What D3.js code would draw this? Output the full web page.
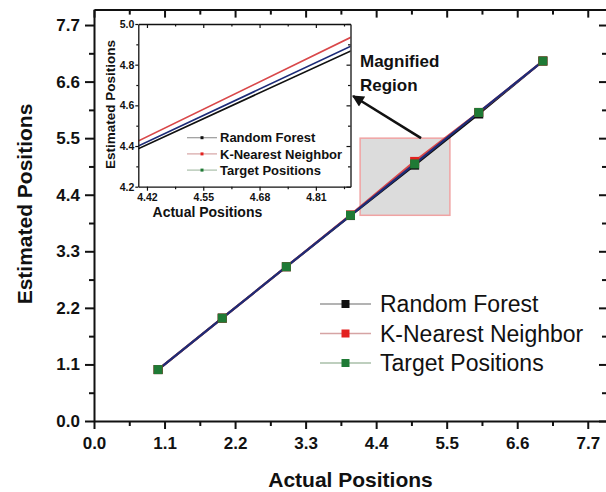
<!DOCTYPE html>
<html>
<head>
<meta charset="utf-8">
<script src="https://cdn.jsdelivr.net/npm/d3@7"></script>
<style>
  html, body { margin: 0; padding: 0; background: #fff; }
  svg { display: block; }
  text { font-family: "Liberation Sans", Arial, Helvetica, sans-serif; fill: #111; }
</style>
</head>
<body>
<svg id="chart" width="606" height="492"></svg>
<script>
// ---- data ----
const actual = [1, 2, 3, 4, 5, 6, 7];
const randomForest = [1.0, 2.0, 3.0, 3.995, 4.975, 5.97, 7.0];
const kNearest = [1.0, 2.0, 3.0, 4.009, 5.048, 6.0, 7.0];
const targetPos = [1, 2, 3, 4, 5, 6, 7];

const seriesNames = ["Random Forest", "K-Nearest Neighbor", "Target Positions"];

const mainTicks = [0.0, 1.1, 2.2, 3.3, 4.4, 5.5, 6.6, 7.7];
const mainMinor = [0.55, 1.65, 2.75, 3.85, 4.95, 6.05, 7.15];

const insetXTicks = [4.42, 4.55, 4.68, 4.81];
const insetXMinor = [4.485, 4.615, 4.745, 4.875];
const insetYTicks = [4.2, 4.4, 4.6, 4.8, 5.0];
const insetYMinor = [4.3, 4.5, 4.7, 4.9];

// magnified region (data units) and arrow pointing to the inset
const zoomX = [4.15, 5.55];
const zoomY = [4.0, 5.5];
const arrowFrom = [5.1, 5.5];
const arrowTo = [4.04, 6.32];

// ---- styles ----
const lineColors = ["#111111", "#d9484a", "#1d2c78"];
const markerColors = ["#111111", "#e3211f", "#1f7a35"];
const legendLineColors = ["#9a9a9a", "#d6a4a4", "#a9bfa9"];

const series = [randomForest, kNearest, targetPos].map((vals, i) => ({
  name: seriesNames[i],
  points: actual.map((a, j) => [a, vals[j]]),
  line: lineColors[i],
  marker: markerColors[i],
  legendLine: legendLineColors[i]
}));

const svg = d3.select("#chart");

// ---- main plot ----
const x = d3.scaleLinear().domain([0, 8]).range([94, 607]);
const y = d3.scaleLinear().domain([0, 8]).range([421, 9.6]);
const fmt = d3.format(".1f");

// magnified region box
svg.append("rect")
  .attr("x", x(zoomX[0])).attr("y", y(zoomY[1]))
  .attr("width", x(zoomX[1]) - x(zoomX[0]))
  .attr("height", y(zoomY[0]) - y(zoomY[1]))
  .attr("fill", "#dcdcdc").attr("stroke", "#f0a3a3").attr("stroke-width", 1.5);

// axes: left/bottom outward with labels, top/right inward
function styleAxis(g) {
  g.select(".domain").attr("stroke", "#111").attr("stroke-width", 2);
  g.selectAll(".tick line").attr("stroke", "#111").attr("stroke-width", 2);
  g.selectAll(".tick text").attr("font-size", 17).attr("font-weight", "bold").attr("fill", "#111");
}
function minorAxis(g) {
  g.select(".domain").remove();
  g.selectAll(".tick line").attr("stroke", "#111").attr("stroke-width", 2);
  g.selectAll(".tick text").remove();
}

svg.append("g").attr("transform", `translate(0,${y(0)})`)
  .call(d3.axisBottom(x).tickValues(mainTicks).tickFormat(fmt).tickSize(8).tickPadding(8).tickSizeOuter(0))
  .call(styleAxis);
svg.append("g").attr("transform", `translate(0,${y(0)})`)
  .call(d3.axisBottom(x).tickValues(mainMinor).tickSize(5))
  .call(minorAxis);

svg.append("g").attr("transform", `translate(${x(0)},0)`)
  .call(d3.axisLeft(y).tickValues(mainTicks).tickFormat(fmt).tickSize(9).tickPadding(5).tickSizeOuter(0))
  .call(styleAxis);
svg.append("g").attr("transform", `translate(${x(0)},0)`)
  .call(d3.axisLeft(y).tickValues(mainMinor).tickSize(5))
  .call(minorAxis);

svg.append("g").attr("transform", `translate(0,${y(8)})`)
  .call(d3.axisTop(x).tickValues(mainTicks).tickFormat("").tickSize(-8).tickSizeOuter(0))
  .call(styleAxis);
svg.append("g").attr("transform", `translate(0,${y(8)})`)
  .call(d3.axisTop(x).tickValues(mainMinor).tickSize(-5))
  .call(minorAxis);

svg.append("g").attr("transform", `translate(${x(8)},0)`)
  .call(d3.axisRight(y).tickValues(mainTicks).tickFormat("").tickSize(-8).tickSizeOuter(0))
  .call(styleAxis);
svg.append("g").attr("transform", `translate(${x(8)},0)`)
  .call(d3.axisRight(y).tickValues(mainMinor).tickSize(-5))
  .call(minorAxis);

// axis titles
svg.append("text")
  .attr("x", (x(0) + x(8)) / 2).attr("y", 487)
  .attr("text-anchor", "middle").attr("font-size", 21).attr("font-weight", "bold")
  .text("Actual Positions");
svg.append("text")
  .attr("transform", "translate(32,204) rotate(-90)")
  .attr("text-anchor", "middle").attr("font-size", 21).attr("font-weight", "bold")
  .text("Estimated Positions");

// series lines and markers
const line = d3.line().x(d => x(d[0])).y(d => y(d[1]));
series.forEach(s => {
  svg.append("path").datum(s.points)
    .attr("fill", "none").attr("stroke", s.line).attr("stroke-width", 2.2)
    .attr("d", line);
});
const ms = 9;
series.forEach(s => {
  svg.append("g").selectAll("rect").data(s.points).join("rect")
    .attr("x", d => x(d[0]) - ms / 2).attr("y", d => y(d[1]) - ms / 2)
    .attr("width", ms).attr("height", ms)
    .attr("fill", s.marker);
});

// main legend
const legMain = svg.append("g");
series.forEach((s, i) => {
  const cy = 304 + i * 29.5;
  legMain.append("line").attr("x1", 320).attr("x2", 371).attr("y1", cy).attr("y2", cy)
    .attr("stroke", s.legendLine).attr("stroke-width", 1.5);
  legMain.append("rect").attr("x", 345.5 - 4).attr("y", cy - 4).attr("width", 8).attr("height", 8)
    .attr("fill", s.marker);
  legMain.append("text").attr("x", 380).attr("y", cy + 8)
    .attr("font-size", 23).text(s.name);
});

// annotation arrow and label
const defs = svg.append("defs");
defs.append("marker").attr("id", "arrowhead")
  .attr("viewBox", "0 0 10 10").attr("refX", 9).attr("refY", 5)
  .attr("markerWidth", 5).attr("markerHeight", 4.5).attr("orient", "auto")
  .attr("markerUnits", "strokeWidth")
  .append("path").attr("d", "M0,0 L10,5 L0,10 z").attr("fill", "#111");
svg.append("line")
  .attr("x1", x(arrowFrom[0])).attr("y1", y(arrowFrom[1]))
  .attr("x2", x(arrowTo[0])).attr("y2", y(arrowTo[1]))
  .attr("stroke", "#111").attr("stroke-width", 2.6)
  .attr("marker-end", "url(#arrowhead)");
svg.append("text").attr("x", 360).attr("y", 67)
  .attr("font-size", 17).attr("font-weight", "bold").text("Magnified");
svg.append("text").attr("x", 360).attr("y", 91)
  .attr("font-size", 17).attr("font-weight", "bold").text("Region");

// ---- inset (zoomed view) ----
const xi = d3.scaleLinear().domain([4.40, 4.89]).range([138.3, 350.5]);
const yi = d3.scaleLinear().domain([4.2, 5.0]).range([186.7, 24]);

const inset = svg.append("g");
inset.append("rect")
  .attr("x", xi(4.40)).attr("y", yi(5.0))
  .attr("width", xi(4.89) - xi(4.40)).attr("height", yi(4.2) - yi(5.0))
  .attr("fill", "#fff");

defs.append("clipPath").attr("id", "insetClip").append("rect")
  .attr("x", xi(4.40)).attr("y", yi(5.0))
  .attr("width", xi(4.89) - xi(4.40)).attr("height", yi(4.2) - yi(5.0));

const lineI = d3.line().x(d => xi(d[0])).y(d => yi(d[1]));
const insetLines = inset.append("g").attr("clip-path", "url(#insetClip)");
[series[0], series[2], series[1]].forEach(s => {
  insetLines.append("path").datum(s.points)
    .attr("fill", "none").attr("stroke", s.line).attr("stroke-width", 1.6)
    .attr("d", lineI);
});

function styleInset(g) {
  g.select(".domain").attr("stroke", "#111").attr("stroke-width", 1.3);
  g.selectAll(".tick line").attr("stroke", "#111").attr("stroke-width", 1.2);
  g.selectAll(".tick text").attr("font-size", 10.5).attr("font-weight", "bold").attr("fill", "#111");
}
function minorInset(g) {
  g.select(".domain").remove();
  g.selectAll(".tick line").attr("stroke", "#111").attr("stroke-width", 1.2);
  g.selectAll(".tick text").remove();
}

inset.append("g").attr("transform", `translate(0,${yi(4.2)})`)
  .call(d3.axisBottom(xi).tickValues(insetXTicks).tickFormat(d3.format(".2f")).tickSize(4).tickPadding(3).tickSizeOuter(0))
  .call(styleInset);
inset.append("g").attr("transform", `translate(0,${yi(4.2)})`)
  .call(d3.axisBottom(xi).tickValues(insetXMinor).tickSize(2.5))
  .call(minorInset);
inset.append("g").attr("transform", `translate(${xi(4.40)},0)`)
  .call(d3.axisLeft(yi).tickValues(insetYTicks).tickFormat(fmt).tickSize(3).tickPadding(1).tickSizeOuter(0))
  .call(styleInset);
inset.append("g").attr("transform", `translate(${xi(4.40)},0)`)
  .call(d3.axisLeft(yi).tickValues(insetYMinor).tickSize(2))
  .call(minorInset);
inset.append("g").attr("transform", `translate(0,${yi(5.0)})`)
  .call(d3.axisTop(xi).tickValues(insetXTicks).tickFormat("").tickSize(-4).tickSizeOuter(0))
  .call(styleInset);
inset.append("g").attr("transform", `translate(0,${yi(5.0)})`)
  .call(d3.axisTop(xi).tickValues(insetXMinor).tickSize(-2.5))
  .call(minorInset);
inset.append("g").attr("transform", `translate(${xi(4.89)},0)`)
  .call(d3.axisRight(yi).tickValues(insetYTicks).tickFormat("").tickSize(-4).tickSizeOuter(0))
  .call(styleInset);
inset.append("g").attr("transform", `translate(${xi(4.89)},0)`)
  .call(d3.axisRight(yi).tickValues(insetYMinor).tickSize(-2.5))
  .call(minorInset);

inset.append("text").attr("x", (xi(4.40) + xi(4.89)) / 2 - 37).attr("y", 217)
  .attr("text-anchor", "middle").attr("font-size", 14).attr("font-weight", "bold")
  .text("Actual Positions");
inset.append("text").attr("transform", "translate(114.5,104.5) rotate(-90)")
  .attr("text-anchor", "middle").attr("font-size", 13.5).attr("font-weight", "bold")
  .text("Estimated Positions");

// inset legend
series.forEach((s, i) => {
  const cy = 137.7 + i * 16.2;
  inset.append("line").attr("x1", 187).attr("x2", 217).attr("y1", cy).attr("y2", cy)
    .attr("stroke", s.legendLine).attr("stroke-width", 1.2);
  inset.append("rect").attr("x", 200.5).attr("y", cy - 1.5).attr("width", 3).attr("height", 3)
    .attr("fill", s.marker);
  inset.append("text").attr("x", 220).attr("y", cy + 4.7)
    .attr("font-size", 13).attr("font-weight", "bold").text(s.name);
});
</script>
</body>
</html>
